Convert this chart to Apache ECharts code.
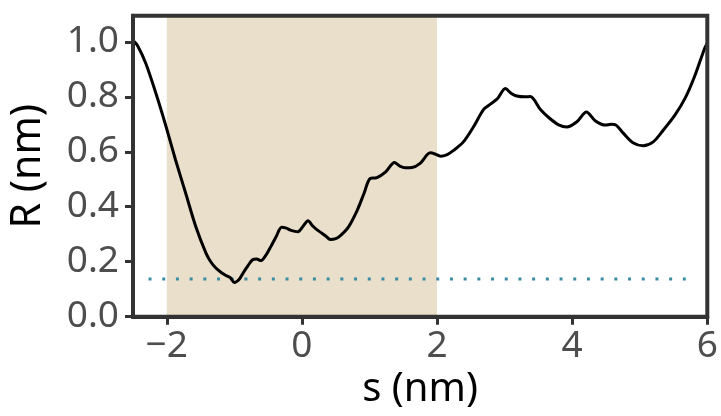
<!DOCTYPE html>
<html><head><meta charset="utf-8">
<script src="https://cdn.jsdelivr.net/npm/echarts@6/dist/echarts.min.js"></script>
<style>html,body{margin:0;padding:0;background:#fff}#c{width:721px;height:416px}</style>
</head><body><div id="c"></div>
<script>
const sValues = [-2.5,-2.43,-2.31,-2.16,-2.01,-1.87,-1.72,-1.57,-1.42,-1.35,-1.27,-1.19,-1.13,-1.06,-1.00,-0.93,-0.88,-0.80,-0.73,-0.67,-0.61,-0.53,-0.46,-0.38,-0.30,-0.23,-0.17,-0.06,0.02,0.09,0.16,0.23,0.30,0.36,0.42,0.50,0.57,0.69,0.82,0.92,1.01,1.11,1.24,1.37,1.45,1.53,1.63,1.75,1.90,1.97,2.05,2.15,2.25,2.39,2.54,2.69,2.80,2.90,3.01,3.10,3.18,3.30,3.38,3.53,3.67,3.80,3.92,4.07,4.21,4.34,4.49,4.58,4.65,4.76,4.90,5.05,5.20,5.35,5.52,5.67,5.81,5.96,6.0];
const rValues = [1.005,0.985,0.921,0.812,0.691,0.570,0.449,0.327,0.231,0.200,0.176,0.160,0.151,0.142,0.124,0.135,0.155,0.185,0.207,0.210,0.204,0.225,0.255,0.292,0.325,0.322,0.315,0.309,0.330,0.349,0.330,0.315,0.303,0.292,0.281,0.284,0.295,0.327,0.388,0.449,0.503,0.506,0.527,0.561,0.548,0.542,0.543,0.558,0.596,0.592,0.584,0.590,0.606,0.636,0.691,0.754,0.775,0.795,0.830,0.812,0.803,0.800,0.801,0.754,0.721,0.698,0.690,0.709,0.745,0.713,0.697,0.700,0.697,0.667,0.633,0.622,0.636,0.679,0.733,0.794,0.873,0.976,0.995];
const thresholdS = [-2.27, 5.82];
const thresholdR = 0.137;
const shadeRange = [-2, 2];
const xTicks = [-2, 0, 2, 4, 6];
const yTicks = [0, 0.2, 0.4, 0.6, 0.8, 1.0];
const xLimits = [-2.5, 6];
const yLimits = [0, 1.095];

const chart = echarts.init(document.getElementById('c'));
const font = 'Noto Sans';
const frame = { color: '#333333', width: 4 };
chart.setOption({
  animation: false,
  grid: { left: 132.5, right: 13.7, top: 15.7, bottom: 99.3, show: true, borderColor: '#333333', borderWidth: 4, z: 10, backgroundColor: 'transparent' },
  xAxis: {
    type: 'value', min: xLimits[0], max: xLimits[1],
    name: 's (nm)', nameLocation: 'middle', nameGap: 50,
    nameTextStyle: { fontFamily: font, fontSize: 40, color: '#000' },
    axisLine: { show: true, onZero: false, lineStyle: frame },
    axisTick: { show: true, customValues: xTicks, length: 8, lineStyle: { color: '#333333', width: 3 } },
    axisLabel: { customValues: xTicks, fontFamily: font, fontSize: 37, color: '#4D4D4D', margin: 11,
      formatter: v => (v < 0 ? '\u2212' + Math.abs(v) : String(v)) },
    splitLine: { show: false }
  },
  yAxis: {
    type: 'value', min: yLimits[0], max: yLimits[1],
    name: 'R (nm)', nameLocation: 'middle', nameGap: 84, nameRotate: 90,
    nameTextStyle: { fontFamily: font, fontSize: 41, color: '#000' },
    axisLine: { show: true, onZero: false, lineStyle: frame },
    axisTick: { show: true, customValues: yTicks, length: 8, lineStyle: { color: '#333333', width: 3 } },
    axisLabel: { customValues: yTicks, fontFamily: font, fontSize: 37, color: '#4D4D4D', margin: 14,
      formatter: v => v.toFixed(1) },
    splitLine: { show: false }
  },
  series: [
    {
      type: 'line', data: [], silent: true, z: 1,
      markArea: { silent: true, itemStyle: { color: '#E9DFCB', opacity: 1 },
        data: [[{ xAxis: shadeRange[0] }, { xAxis: shadeRange[1] }]] }
    },
    {
      type: 'line', z: 3, symbol: 'none', silent: true,
      data: thresholdS.map(s => [s, thresholdR]),
      lineStyle: { color: '#3A8CA3', width: 3, type: [3, 10.7], cap: 'butt' }
    },
    {
      type: 'line', z: 4, symbol: 'none', smooth: 0.3, silent: true,
      data: sValues.map((s, i) => [s, rValues[i]]),
      lineStyle: { color: '#000', width: 3 }
    }
  ]
});
</script></body></html>
